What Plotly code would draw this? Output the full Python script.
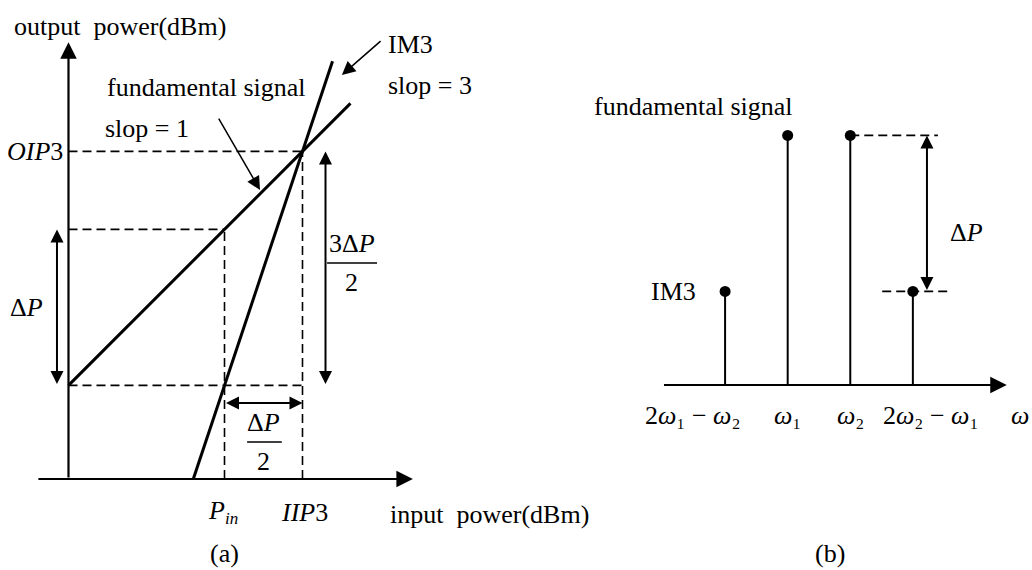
import plotly.graph_objects as go

# ---------------- panel (a): output power vs input power ----------------
fund_x = [0.0, 7.23]          # fundamental, slope 1
fund_y = [2.4, 9.63]
im3_x = [3.2, 6.77]           # third-order intermod, slope 3
im3_y = [0.0, 10.71]
p_in = 4.0
iip3 = 6.0
oip3 = 8.4
p_fund_at_pin = 6.4
p_im3_at_pin = 2.4

# ---------------- panel (b): two-tone output spectrum ----------------
freq_pos = [1, 2, 3, 4]
freq_labels = [
    "2<i>ω</i>₁ − <i>ω</i>₂",
    "<i>ω</i>₁",
    "<i>ω</i>₂",
    "2<i>ω</i>₂ − <i>ω</i>₁",
]
spec_amp = [p_im3_at_pin, p_fund_at_pin, p_fund_at_pin, p_im3_at_pin]

FONT = "Liberation Serif, Times New Roman, serif"
FS = 26
BLACK = "black"
DASH = "9px,5px"

fig = go.Figure()


def axes_of(ref):
    return ("x", "y") if ref == "a" else ("x2", "y2")


def seg(xs, ys, ref, width, dash=None):
    xa, ya = axes_of(ref)
    fig.add_trace(go.Scatter(x=xs, y=ys, mode="lines",
                             line=dict(color=BLACK, width=width, dash=dash),
                             xaxis=xa, yaxis=ya, hoverinfo="skip"))


# main transfer lines
seg(fund_x, fund_y, "a", 3)
seg(im3_x, im3_y, "a", 3)

# dashed guide lines
guides = [
    ([0, iip3], [oip3, oip3]),
    ([0, p_in], [p_fund_at_pin, p_fund_at_pin]),
    ([0, iip3], [p_im3_at_pin, p_im3_at_pin]),
    ([p_in, p_in], [0, p_fund_at_pin]),
    ([iip3, iip3], [0, oip3]),
]
for gx, gy in guides:
    seg(gx, gy, "a", 1.6, DASH)

# spectrum stems and dots
stem_x, stem_y = [], []
for f, a in zip(freq_pos, spec_amp):
    stem_x += [f, f, None]
    stem_y += [0, a, None]
seg(stem_x, stem_y, "b", 2)
fig.add_trace(go.Scatter(x=freq_pos, y=spec_amp, mode="markers",
                         marker=dict(color=BLACK, size=11), xaxis="x2", yaxis="y2",
                         hoverinfo="skip"))

# dashed level lines in the spectrum
seg([freq_pos[2], 4.40], [p_fund_at_pin, p_fund_at_pin], "b", 1.6, DASH)
seg([3.51, 4.59], [p_im3_at_pin, p_im3_at_pin], "b", 1.6, DASH)

ann = []


def arrow(tail, tip, ref, width=2, size=1.5, both=False):
    xr, yr = axes_of(ref)
    ann.append(dict(x=tip[0], y=tip[1], ax=tail[0], ay=tail[1],
                    xref=xr, yref=yr, axref=xr, ayref=yr,
                    text="", showarrow=True, arrowhead=2, arrowsize=size,
                    arrowwidth=width, arrowcolor=BLACK,
                    arrowside="end+start" if both else "end",
                    startarrowhead=2, startarrowsize=size))


def label(x, y, text, ref, xanchor="center", size=FS, xshift=0, yshift=0):
    xr, yr = axes_of(ref)
    ann.append(dict(x=x, y=y, xref=xr, yref=yr, text=text, showarrow=False,
                    xanchor=xanchor, yanchor="middle", xshift=xshift, yshift=yshift,
                    font=dict(family=FONT, size=size, color=BLACK)))


# axes with arrowheads
arrow((0, 0), (0, 11.2), "a", width=2.2)
arrow((-0.81, 0), (8.83, 0), "a", width=2.2)
arrow((0, 0), (5.5, 0), "b", width=2.2)

# dimension arrows
arrow((-0.295, p_im3_at_pin), (-0.295, p_fund_at_pin), "a", size=1.3, both=True)
arrow((6.59, p_im3_at_pin), (6.59, oip3), "a", size=1.3, both=True)
arrow((p_in, 1.95), (iip3, 1.95), "a", size=1.3, both=True)
arrow((4.225, p_im3_at_pin), (4.225, p_fund_at_pin), "b", size=1.3, both=True)

# pointer arrows
arrow((8.04, 11.26), (7.01, 10.36), "a", width=1.5, size=1.8)
arrow((3.83, 9.28), (4.91, 7.41), "a", width=1.5, size=1.8)

# panel (a) text
label(-1.449, 11.59, "output  power(dBm)", "a", xanchor="left")
label(8.14, 11.13, "IM3", "a", xanchor="left")
label(8.14, 10.10, "slop = 3", "a", xanchor="left")
label(0.936, 10.03, "fundamental signal", "a", xanchor="left")
label(0.885, 9.0, "slop = 1", "a", xanchor="left")
label(0, oip3, "<i>OIP</i>3", "a", xanchor="right", xshift=-3)
label(-1.064, 4.41, "Δ<i>P</i>", "a")
label(7.27, 6.05, "3Δ<i>P</i>", "a")
label(7.25, 5.03, "2", "a")
label(5.01, 1.44, "Δ<i>P</i>", "a")
label(5.0, 0.44, "2", "a")
label(p_in, -0.80, "<i>P</i>", "a", xanchor="right", xshift=2)
label(p_in, -0.80, "<i>in</i>", "a", xanchor="left", size=17, xshift=-2, yshift=-8)
label(iip3, -0.85, "<i>IIP</i>3", "a", xshift=2)
label(8.19, -0.92, "input  power(dBm)", "a", xanchor="left")
label(4.0, -1.9, "(a)", "a")

# panel (b) text
label(0.49, 7.13, "fundamental signal", "b")
label(0.567, p_im3_at_pin, "IM3", "b", xanchor="right")
label(4.56, 3.92, "Δ<i>P</i>", "b", xanchor="left")
tick_shift = [-32, 0, 0, 18]
for f, t, s in zip(freq_pos, freq_labels, tick_shift):
    label(f, -0.77, t, "b", xshift=s)
label(5.71, -0.77, "<i>ω</i>", "b")
label(2.68, -4.31, "(b)", "b")

# fraction bars
shapes = [
    dict(type="line", xref="x", yref="y", x0=6.63, x1=7.91, y0=5.54, y1=5.54,
         line=dict(color=BLACK, width=1.5)),
    dict(type="line", xref="x", yref="y", x0=4.58, x1=5.47, y0=0.95, y1=0.95,
         line=dict(color=BLACK, width=1.5)),
]

fig.update_layout(
    width=1032, height=570,
    margin=dict(l=0, r=0, t=0, b=0),
    paper_bgcolor="white", plot_bgcolor="white",
    showlegend=False,
    xaxis=dict(domain=[0, 0.5], range=[-1.756, 11.474], visible=False),
    yaxis=dict(domain=[0, 1], range=[-2.333, 12.282], visible=False),
    xaxis2=dict(domain=[0.5, 1], range=[-2.340, 5.903], visible=False, anchor="y2"),
    yaxis2=dict(domain=[0, 1], range=[-4.744, 9.872], visible=False, anchor="x2"),
    annotations=ann,
    shapes=shapes,
)

fig.write_html("out.html")
